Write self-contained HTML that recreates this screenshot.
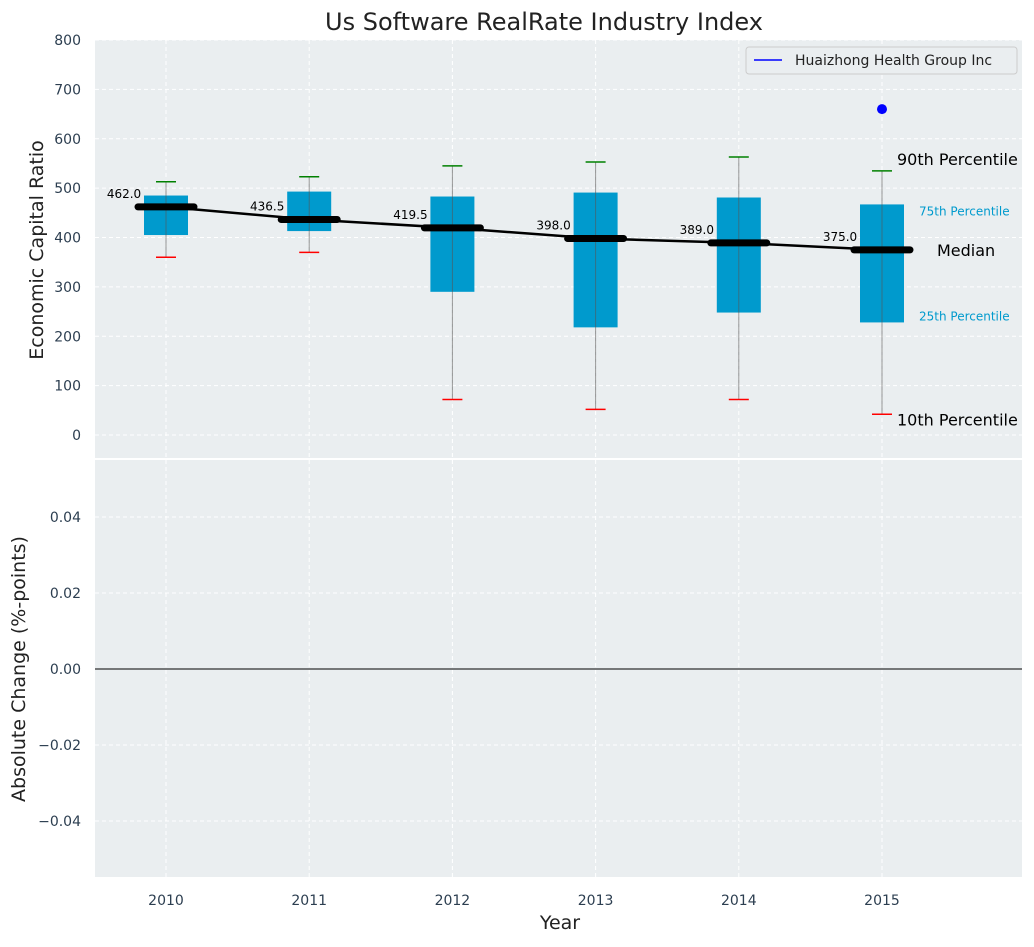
<!DOCTYPE html>
<html><head><meta charset="utf-8"><style>
body{margin:0;background:#fff;font-family:"Liberation Sans","DejaVu Sans",sans-serif}
svg text{font-family:"DejaVu Sans","Liberation Sans",sans-serif}
</style></head><body>
<svg id="c" width="1034" height="942" xmlns="http://www.w3.org/2000/svg"></svg>
<script>
const years=[2010,2011,2012,2013,2014,2015];
const q1=[405,413,290,218,248,228];
const q3=[485,493,483,491,481,467];
const p10=[360,370,72,52,72,42];
const p90=[513,523,545,553,563,535];
const medians=[462.0,436.5,419.5,398.0,389.0,375.0];
const outlierYear=[2015];
const outlierVal=[660];
const yTicks=[0,100,200,300,400,500,600,700,800];
const y2Ticks=[-0.04,-0.02,0.00,0.02,0.04];
const y2Labels=["\u22120.04","\u22120.02","0.00","0.02","0.04"];

const NS="http://www.w3.org/2000/svg";
const svg=document.getElementById('c');
function el(t,a,p){const e=document.createElementNS(NS,t);for(const k in a)e.setAttribute(k,a[k]);(p||svg).appendChild(e);return e;}
const L=95,R=1022,T1=40,B1=458,T2=460,B2=877;
const x=v=>166+(v-2010)*143.2;
const y=v=>435-v*0.49375;
const y2=v=>669-v*3800;

let e=el('rect',{x:L,y:T1,width:R-L,height:B1-T1,fill:'#eaeef0'});

e=el('rect',{x:L,y:T2,width:R-L,height:B2-T2,fill:'#eaeef0'});


years.forEach(yr=>{
 e=el('line',{x1:x(yr),x2:x(yr),y1:T1,y2:B1,stroke:'#fff','stroke-dasharray':'4,3'});
 
 e=el('line',{x1:x(yr),x2:x(yr),y1:T2,y2:B2,stroke:'#fff','stroke-dasharray':'4,3'});
 
 e=el('text',{x:x(yr),y:905,'text-anchor':'middle','font-size':14,fill:'#2c3e50'});e.textContent=yr;
 
});
yTicks.forEach(t=>{
 e=el('line',{x1:L,x2:R,y1:y(t),y2:y(t),stroke:'#fff','stroke-dasharray':'4,3'});
 
 e=el('text',{x:81,y:y(t)+5,'text-anchor':'end','font-size':14,fill:'#2c3e50'});e.textContent=t;
 
});
y2Ticks.forEach((t,i)=>{
 e=el('line',{x1:L,x2:R,y1:y2(t),y2:y2(t),stroke:'#fff','stroke-dasharray':'4,3'});
 
 e=el('text',{x:81,y:y2(t)+5,'text-anchor':'end','font-size':14,fill:'#2c3e50'});e.textContent=y2Labels[i];
 
});
e=el('line',{x1:L,x2:R,y1:y2(0),y2:y2(0),stroke:'#000','stroke-width':1});


years.forEach((yr,i)=>{
 const cx=x(yr);
 e=el('rect',{x:cx-22,y:y(q3[i]),width:44,height:y(q1[i])-y(q3[i]),fill:'#009ACD'});
 
 e=el('line',{x1:cx,x2:cx,y1:y(p10[i]),y2:y(p90[i]),stroke:'#555','stroke-opacity':0.6});
 
 e=el('line',{x1:cx-10,x2:cx+10,y1:y(p10[i]),y2:y(p10[i]),stroke:'red','stroke-width':1.5});
 
 e=el('line',{x1:cx-10,x2:cx+10,y1:y(p90[i]),y2:y(p90[i]),stroke:'green','stroke-width':1.5});
 
});
e=el('polyline',{points:years.map((yr,i)=>x(yr)+','+y(medians[i])).join(' '),fill:'none',stroke:'#000','stroke-width':2.5});

years.forEach((yr,i)=>{
 const cx=x(yr);
 e=el('line',{x1:cx-28,x2:cx+28,y1:y(medians[i]),y2:y(medians[i]),stroke:'#000','stroke-width':7,'stroke-linecap':'round'});
 
 e=el('text',{x:cx-42,y:y(medians[i])-9,'text-anchor':'middle','font-size':12,fill:'#000'});e.textContent=medians[i].toFixed(1);
 
});
outlierYear.forEach((yr,i)=>{
 e=el('circle',{cx:x(yr),cy:y(outlierVal[i]),r:5,fill:'blue'});
 
});
const lx=x(2015);
[['90th Percentile',lx+15,y(p90[5])-6,16,'#000','start','p90-annotation'],
 ['10th Percentile',lx+15,y(p10[5])+11,16,'#000','start','p10-annotation'],
 ['Median',lx+55,y(medians[5])+6,16,'#000','start','median-annotation'],
 ['75th Percentile',lx+37,y(q3[5])+11,12,'#009ACD','start','p75-annotation'],
 ['25th Percentile',lx+37,y(q1[5])-2,12,'#009ACD','start','p25-annotation']].forEach(a=>{
 e=el('text',{x:a[1],y:a[2],'font-size':a[3],fill:a[4],'text-anchor':a[5]});e.textContent=a[0];
 
});
const lg=el('g',{});

el('rect',{x:746,y:47,width:271,height:27,rx:3,fill:'#eaeef0',stroke:'#ccc'},lg);
el('line',{x1:754,x2:782,y1:60,y2:60,stroke:'blue','stroke-width':1.5},lg);
e=el('text',{x:795,y:65,'font-size':14,fill:'#222'},lg);e.textContent='Huaizhong Health Group Inc';

e=el('text',{x:544,y:30,'text-anchor':'middle','font-size':24,fill:'#222'});e.textContent='Us Software RealRate Industry Index';

e=el('text',{x:560,y:929,'text-anchor':'middle','font-size':19,fill:'#222'});e.textContent='Year';

e=el('text',{x:0,y:0,'text-anchor':'middle','font-size':19,fill:'#222',transform:'translate(43,250) rotate(-90)'});e.textContent='Economic Capital Ratio';

e=el('text',{x:0,y:0,'text-anchor':'middle','font-size':19,fill:'#222',transform:'translate(25,669) rotate(-90)'});e.textContent='Absolute Change (%-points)';

</script>
</body></html>
